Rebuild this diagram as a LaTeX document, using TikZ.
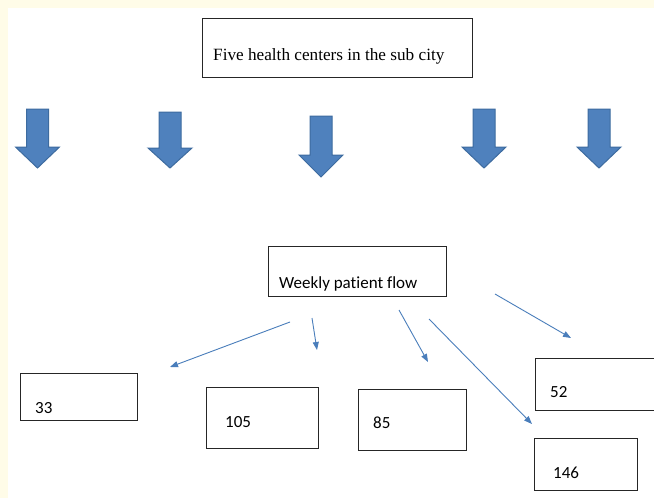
\documentclass[tikz,border=0pt]{standalone}
\usepackage{fontspec}
\setmainfont{Liberation Serif}
\newfontfamily\calib[Ligatures=NoCommon]{Carlito}
\usetikzlibrary{arrows.meta}
\definecolor{cream}{HTML}{FFFCE8}
\definecolor{blockblue}{HTML}{4F81BD}
\definecolor{blockedge}{HTML}{3D6B9F}
\definecolor{thinblue}{HTML}{4A7EBB}
\newcommand\bigdown[5]{%
  \draw[bigarrow] (#1-11,#2) -- (#1+11,#2) -- (#1+11,#3) -- (#1+22,#3) -- (#1,#4) -- (#1-22,#3) -- (#1-11,#3) -- cycle;
  \coordinate (#5) at (#1,#4);}
\begin{document}
\begin{tikzpicture}[x=1pt,y=-1pt,
  bigarrow/.style={fill=blockblue,draw=blockedge,line width=1pt,line join=miter},
  plainbox/.style={draw=black!85,line width=1pt,inner sep=0pt,outer sep=0pt},
  numtxt/.style={anchor=base west,inner sep=0pt,font=\calib\fontsize{17}{20}\selectfont},
  flowarrow/.style={draw=thinblue,line width=0.9pt,-{Triangle[length=8pt,width=6pt]}}]
\useasboundingbox (0,0) rectangle (654,498);
\fill[cream] (0,0) rectangle (654,498);
\fill[white] (8,8) rectangle (654,498);
% top box
\draw[plainbox] (202,18) rectangle (472,77);
\node[anchor=base west,inner sep=0pt,font=\fontsize{17.2}{20}\selectfont] (title) at (213,60) {Five health centers in the sub city};
% block arrows
\bigdown{37.5}{109}{147}{168}{a1}
\bigdown{170}{112}{148}{168}{a2}
\bigdown{321}{116}{155}{177}{a3}
\bigdown{484}{109}{147}{168}{a4}
\bigdown{599}{109}{147}{168}{a5}
% middle box
\draw[plainbox] (268,246) rectangle (446,296);
\node[numtxt] (flow) at (279,288) {Weekly patient flow};
% number boxes
\draw[plainbox] (20,373) rectangle (137,420);
\node[numtxt] (n33) at (35,413) {33};
\draw[plainbox] (206,387) rectangle (318,448);
\node[numtxt] (n105) at (225,427) {105};
\draw[plainbox] (358,389) rectangle (466,450);
\node[numtxt] (n85) at (373,428) {85};
\draw[plainbox] (535,358) rectangle (660,410);
\node[numtxt] (n52) at (550,397) {52};
\draw[plainbox] (534,438) rectangle (637,490);
\node[numtxt] (n146) at (553,478) {146};
% thin arrows
\coordinate (s1) at (290,322); \coordinate (e1) at (170,367);
\coordinate (s2) at (312,318); \coordinate (e2) at (317,350);
\coordinate (s3) at (399,310); \coordinate (e3) at (428,362);
\coordinate (s4) at (429,319); \coordinate (e4) at (532,424);
\coordinate (s5) at (495,294); \coordinate (e5) at (571,338);
\draw[flowarrow] (s1) -- (e1);
\draw[flowarrow] (s2) -- (e2);
\draw[flowarrow] (s3) -- (e3);
\draw[flowarrow] (s4) -- (e4);
\draw[flowarrow] (s5) -- (e5);
\end{tikzpicture}
\end{document}
